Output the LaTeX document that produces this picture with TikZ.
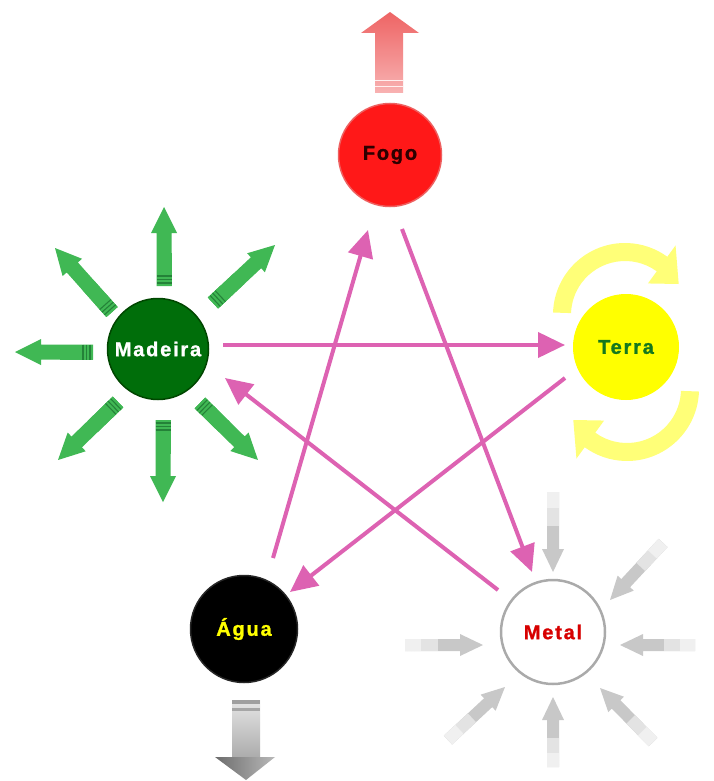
\documentclass[tikz,border=0pt]{standalone}
\usepackage{fontspec}
\setmainfont{Liberation Sans}
\usetikzlibrary{arrows.meta,calc}
\definecolor{pinkc}{RGB}{221,98,178}
\definecolor{greenc}{RGB}{64,184,84}
\definecolor{greendark}{RGB}{36,130,56}
\definecolor{grayarr}{RGB}{200,200,200}
\definecolor{fogofill}{RGB}{255,24,24}
\definecolor{fogoedge}{RGB}{238,96,96}
\definecolor{fogotext}{RGB}{45,0,0}
\definecolor{madfill}{RGB}{0,110,10}
\definecolor{madedge}{RGB}{0,70,0}
\definecolor{terfill}{RGB}{255,255,0}
\definecolor{tertext}{RGB}{20,120,30}
\definecolor{metedge}{RGB}{170,170,170}
\definecolor{mettext}{RGB}{215,0,0}
\definecolor{aguatext}{RGB}{255,255,0}
\definecolor{arcyellow}{RGB}{255,255,120}
\colorlet{tailA}{greenc}\colorlet{tailB}{greenc}\colorlet{stripe}{greendark}
% #1 fill, #2,#3 tail, #4,#5 tip, #6 half shaft, #7 half head, #8 head length
\newcommand\fatarrow[8]{%
  \pgfmathanglebetweenpoints{\pgfpoint{#2pt}{#3pt}}{\pgfpoint{#4pt}{#5pt}}\let\faang\pgfmathresult
  \pgfmathveclen{(#4)-(#2)}{(#5)-(#3)}\let\falen\pgfmathresult
  \pgfmathsetmacro\fabase{\falen-#8}%
  \begin{scope}[shift={(#2,#3)}, rotate=\faang]
    \fill[#1] (0,-#6) -- (\fabase,-#6) -- (\fabase,-#7) -- (\falen,0) -- (\fabase,#7) -- (\fabase,#6) -- (0,#6) -- cycle;
    \fill[tailA] (0,-#6) rectangle (\falen*0.42,#6);
    \fill[tailB] (0,-#6) rectangle (\falen*0.2,#6);
    \draw[stripe, line width=1.1pt] (3,-#6) -- (3,#6) (6.5,-#6) -- (6.5,#6) (10,-#6) -- (10,#6);
  \end{scope}}
\begin{document}
\begin{tikzpicture}[x=1pt,y=1pt,
  elem/.style={circle, inner sep=0pt, font=\fontsize{20}{22}\selectfont\bfseries\addfontfeatures{LetterSpace=9,FakeBold=1.2}},
  pinkarrow/.style={draw=pinkc, line width=4pt, -{Triangle[length=27pt,width=25pt]}}]
\useasboundingbox (0,0) rectangle (714,-781);
\fill[white] (0,0) rectangle (714,-781);

% ---- element circles
\node[elem, fill=fogofill, draw=fogoedge, line width=1.5pt, minimum size=103pt, text=fogotext] (fogo) at (390,-155) {Fogo};
\node[elem, fill=madfill, draw=madedge, line width=1.5pt, minimum size=101pt, text=white] (madeira) at (158,-349) {Madeira};
\node[elem, fill=terfill, draw=terfill, line width=1pt, minimum size=105pt, text=tertext] (terra) at (626,-347) {Terra};
\node[elem, fill=white, draw=metedge, line width=2.5pt, minimum size=104pt, text=mettext] (metal) at (553,-632) {Metal};
\node[elem, fill=black, draw=black!85, line width=1.5pt, minimum size=107pt, text=aguatext] (agua) at (244,-629) {Água};

% ---- Fogo upward arrow
\shade[top color={rgb,255:red,238;green,100;blue,100}, bottom color={rgb,255:red,248;green,178;blue,178}]
  (375,-93) -- (375,-33) -- (361,-33) -- (390,-12) -- (419,-33) -- (403,-33) -- (403,-93) -- cycle;
\draw[white!75!pink, line width=1pt] (375,-81) -- (403,-81) (375,-87) -- (403,-87);

% ---- Agua downward arrow
\shade[top color=gray!20, bottom color=gray!65] (232,-700) rectangle (260,-757);
\shade[left color=gray!85!black, right color=gray!55] (215,-757) -- (246,-780) -- (275,-757) -- cycle;
\fill[gray!75] (232,-700) rectangle (260,-704);
\fill[gray!70] (232,-708) rectangle (260,-711);

% ---- Madeira outward green arrows
\colorlet{tailA}{greenc}\colorlet{tailB}{greenc}\colorlet{stripe}{greendark}
\fatarrow{greenc}{164}{-286}{164}{-207}{7.5}{13}{26}
\fatarrow{greenc}{213}{-303}{275}{-245}{7.5}{13}{26}
\fatarrow{greenc}{200}{-403}{258}{-460}{7.5}{13}{26}
\fatarrow{greenc}{163}{-420}{163}{-502}{7.5}{13}{26}
\fatarrow{greenc}{118}{-402}{58}{-460}{7.5}{13}{26}
\fatarrow{greenc}{93}{-352}{15}{-352}{7.5}{13}{26}
\fatarrow{greenc}{112}{-312}{55}{-248}{7.5}{13}{26}

% ---- Metal inward gray arrows
\colorlet{tailA}{gray!22}\colorlet{tailB}{gray!12}\colorlet{stripe}{gray!12}
\fatarrow{grayarr}{553}{-492}{553}{-572}{6}{11}{23}
\fatarrow{grayarr}{663}{-543}{610}{-600}{6}{11}{23}
\fatarrow{grayarr}{695}{-645}{620}{-645}{6}{11}{23}
\fatarrow{grayarr}{653}{-742}{600}{-688}{6}{11}{23}
\fatarrow{grayarr}{553}{-767}{553}{-697}{6}{11}{23}
\fatarrow{grayarr}{448}{-740}{505}{-687}{6}{11}{23}
\fatarrow{grayarr}{405}{-645}{483}{-645}{6}{11}{23}

% ---- Terra circling yellow arrows
\begin{scope}[shift={(625,-315)}]
  \fill[arcyellow] (178:72) arc[start angle=178, end angle=54, radius=72] -- (54:86) -- (30:62) -- (54:39) -- (54:54) arc[start angle=54, end angle=178, radius=54] -- cycle;
\end{scope}
\begin{scope}[rotate around={180:(626,-352)}, shift={(625,-315)}]
  \fill[arcyellow] (178:72) arc[start angle=178, end angle=54, radius=72] -- (54:86) -- (30:62) -- (54:39) -- (54:54) arc[start angle=54, end angle=178, radius=54] -- cycle;
\end{scope}

% ---- pink control cycle
\coordinate (mad-out) at (223,-345);
\coordinate (ter-in) at (565,-345);
\coordinate (ter-out) at (565,-378);
\coordinate (agua-in) at (290,-592);
\coordinate (agua-out) at (273,-558);
\coordinate (fogo-in) at (368,-230);
\coordinate (fogo-out) at (402,-229);
\coordinate (met-in) at (532,-572);
\coordinate (met-out) at (498,-590);
\coordinate (mad-in) at (225,-378);
\draw[pinkarrow] (mad-out) -- (ter-in);
\draw[pinkarrow] (ter-out) -- (agua-in);
\draw[pinkarrow] (agua-out) -- (fogo-in);
\draw[pinkarrow] (fogo-out) -- (met-in);
\draw[pinkarrow] (met-out) -- (mad-in);
\end{tikzpicture}
\end{document}
